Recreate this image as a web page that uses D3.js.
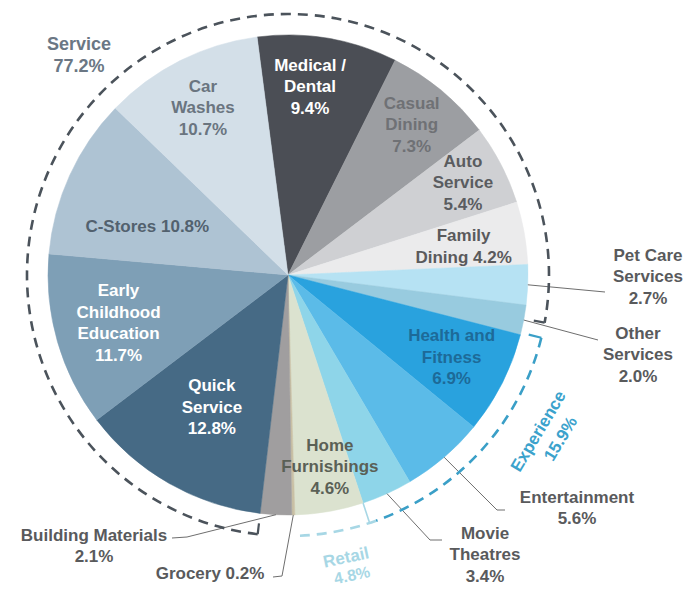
<!DOCTYPE html>
<html>
<head>
<meta charset="utf-8">
<script src="https://cdn.jsdelivr.net/npm/d3@7"></script>
<style>
  body { margin: 0; background: #ffffff; }
  svg text { font-family: "Liberation Sans", Arial, sans-serif; font-weight: 700; }
</style>
</head>
<body>
<svg id="chart" width="699" height="589"></svg>
<script>
// Share of locations by category (%), listed clockwise from the top
const categories = [
  "Medical / Dental", "Casual Dining", "Auto Service", "Family Dining",
  "Pet Care Services", "Other Services", "Health and Fitness", "Entertainment",
  "Movie Theatres", "Home Furnishings", "Grocery", "Building Materials",
  "Quick Service", "Early Childhood Education", "C-Stores", "Car Washes"
];
const shares = [9.4, 7.3, 5.4, 4.2, 2.7, 2.0, 6.9, 5.6, 3.4, 4.6, 0.2, 2.1, 12.8, 11.7, 10.8, 10.7];
// Label text per category; {v} is replaced with the formatted share
const labelLines = [
  ["Medical /", "Dental", "{v}"], ["Casual", "Dining", "{v}"], ["Auto", "Service", "{v}"],
  ["Family", "Dining  {v}"], ["Pet Care", "Services", "{v}"], ["Other", "Services", "{v}"],
  ["Health and", "Fitness", "{v}"], ["Entertainment", "{v}"], ["Movie", "Theatres", "{v}"],
  ["Home", "Furnishings", "{v}"], ["Grocery {v}"], ["Building  Materials", "{v}"],
  ["Quick", "Service", "{v}"], ["Early", "Childhood", "Education", "{v}"],
  ["C-Stores {v}"], ["Car", "Washes", "{v}"]
];
// Category groups
const groupNames = ["Service", "Experience", "Retail"];
const groupShares = [77.2, 15.9, 4.8];

// ---- styling ----
const sliceColors = [
  "#4b4e55", "#9c9ea2", "#cfd0d3", "#ebebec",
  "#b6e2f3", "#98cbdf", "#29a2de", "#5bbbe8",
  "#8ed5e9", "#dbe2cf", "#c9c0a5", "#a09e9f",
  "#466a85", "#7e9fb6", "#aec3d3", "#d3dfe8"
];
const fmt = v => d3.format(".1f")(v) + "%";
const deg = Math.PI / 180;

const svg = d3.select("#chart");
const cx = 288, cy = 275, R = 240, groupR = 261, lh = 21.5;

const pie = d3.pie().sort(null).value(d => d)
  .startAngle(-7.4 * deg).endAngle(-7.4 * deg + 2 * Math.PI);
const slices = pie(shares);
const arc = d3.arc().innerRadius(0).outerRadius(R);

const g = svg.append("g").attr("transform", `translate(${cx},${cy})`);
g.selectAll("path.slice").data(slices).join("path")
  .attr("class", "slice")
  .attr("d", arc)
  .attr("fill", (d, i) => sliceColors[i])
  .attr("stroke", (d, i) => sliceColors[i])
  .attr("stroke-width", 0.5);

const polar = (a, r) => [r * Math.sin(a), -r * Math.cos(a)];
const mid = d => (d.startAngle + d.endAngle) / 2;
const textOf = (i, line) => line.replace("{v}", fmt(shares[i]));

function block(sel, x, y, lines, fill, size) {
  const t = sel.append("text").attr("text-anchor", "middle")
    .attr("fill", fill).attr("font-size", size || 17);
  lines.forEach((l, k) => {
    t.append("tspan").attr("x", x).attr("y", y + k * lh).attr("dy", "0.35em").text(l);
  });
  return t;
}

// ---- labels inside the pie: radius and small angular nudge ----
const inside = {
  0: { r: 190, da: -2.9, fill: "#ffffff" },
  1: { r: 195, da: -0.3, fill: "#6f7175" },
  2: { r: 198, da: -0.5, fill: "#5a5c60" },
  3: { r: 178, da: 0.7, fill: "#5a5a5c" },
  6: { r: 183, da: -0.25, fill: "#1d6a98" },
  9: { r: 196, da: -2.4, fill: "#5a6056" },
  12: { r: 152, da: 0.3, fill: "#ffffff" },
  13: { r: 176, da: 0.4, fill: "#ffffff" },
  14: { r: 149, da: -5.3, fill: "#52616e" },
  15: { r: 188, da: -0.2, fill: "#6a7580" }
};
Object.entries(inside).forEach(([k, o]) => {
  const i = +k, d = slices[i];
  const [x, y] = polar(mid(d) + o.da * deg, o.r);
  const lines = labelLines[i].map(l => textOf(i, l));
  block(g, x, y - (lines.length - 1) * lh / 2, lines, o.fill);
});

// ---- labels outside the pie with leader lines ----
const outside = {
  4: { x: 648, y: 255, bend: [[605, 292]] },
  5: { x: 638, y: 333, bend: [[598, 340]] },
  7: { x: 577, y: 497, bend: [[497, 510], [505, 510]] },
  8: { x: 485, y: 533, bend: [[430, 540], [442, 540]] },
  10: { x: 210, y: 573, bend: [[282, 576], [273, 577]] },
  11: { x: 94, y: 535, bend: [[187, 537], [172, 538]] }
};
const line = d3.line();
Object.entries(outside).forEach(([k, o]) => {
  const i = +k, d = slices[i];
  const [ex, ey] = polar(mid(d), R);
  const pts = [[cx + ex, cy + ey]].concat(o.bend);
  svg.append("path").attr("d", line(pts)).attr("fill", "none")
    .attr("stroke", "#6e6e6e").attr("stroke-width", 1);
  block(svg, o.x, o.y, labelLines[i].map(l => textOf(i, l)), "#595a5c");
});

// ---- dashed group arcs ----
function groupArc(a0, a1, color, width) {
  const p = d3.path();
  p.arc(cx, cy, groupR, a0 - Math.PI / 2, a1 - Math.PI / 2, false);
  svg.append("path").attr("d", p.toString()).attr("fill", "none")
    .attr("stroke", color).attr("stroke-width", width)
    .attr("stroke-dasharray", "10,7");
}
function tick(a, r0, r1, color, width) {
  const [x0, y0] = polar(a, r0), [x1, y1] = polar(a, r1);
  svg.append("line").attr("x1", cx + x0).attr("y1", cy + y0)
    .attr("x2", cx + x1).attr("y2", cy + y1)
    .attr("stroke", color).attr("stroke-width", width);
}
const serviceColor = "#4b535b", expColor = "#3a9fc7", retailColor = "#a7d7e5";
const sA0 = slices[12].startAngle, sA1 = slices[5].endAngle + 2 * Math.PI - 3.9 * deg;
groupArc(sA0, sA1, serviceColor, 2.6);
tick(sA0, groupR, groupR - 11, serviceColor, 2.2);
tick(sA1, groupR, groupR - 11, serviceColor, 2.2);

const eA0 = slices[6].startAngle - 0.5 * deg, eA1 = slices[8].endAngle - 1.5 * deg;
groupArc(eA0, eA1, expColor, 2.6);
tick(eA0, groupR, groupR - 13, expColor, 2.2);

const rA1 = slices[9].endAngle - 1 * deg;
groupArc(eA1, rA1, retailColor, 2.6);
tick(slices[8].endAngle, R, groupR, retailColor, 1.6);

// ---- group labels ----
block(svg, 79, 44, [groupNames[0], fmt(groupShares[0])], "#6b7784", 18);

const exp = svg.append("g").attr("transform", "translate(538,431) rotate(-59)");
exp.append("text").attr("text-anchor", "middle").attr("dy", "0.35em")
  .attr("fill", "#3ba2cc").attr("font-size", 17).text(groupNames[1]);
exp.append("text").attr("text-anchor", "middle").attr("x", 5).attr("y", 23).attr("dy", "0.35em")
  .attr("fill", "#3ba2cc").attr("font-size", 17).text(fmt(groupShares[1]));

svg.append("text").attr("transform", "translate(346,557) rotate(-12)")
  .attr("text-anchor", "middle").attr("dy", "0.35em")
  .attr("fill", retailColor).attr("font-size", 17).text(groupNames[2]);
svg.append("text").attr("transform", "translate(352,575) rotate(-12)")
  .attr("text-anchor", "middle").attr("dy", "0.35em")
  .attr("fill", retailColor).attr("font-size", 16).text(fmt(groupShares[2]));
</script>
</body>
</html>
